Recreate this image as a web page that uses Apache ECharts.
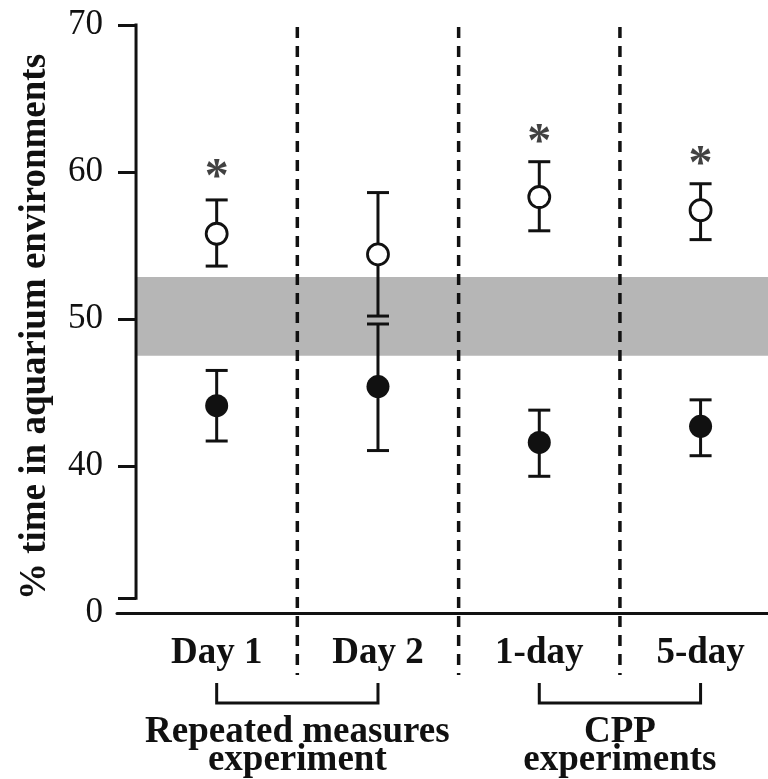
<!DOCTYPE html>
<html>
<head>
<meta charset="utf-8">
<script src="https://cdn.jsdelivr.net/npm/echarts@6/dist/echarts.min.js"></script>
<style>html,body{margin:0;padding:0;background:#fff}#c{width:768px;height:779px}</style>
</head>
<body>
<div id="c"></div>
<script>
const categories = ['Day 1', 'Day 2', '1-day', '5-day'];
const xPositions = [1, 2, 3, 4];
const openMean = [55.8, 54.4, 58.3, 57.4];
const openLow = [53.6, 50.2, 56.0, 55.4];
const openHigh = [58.1, 58.6, 60.7, 59.2];
const filledMean = [44.1, 45.4, 41.6, 42.7];
const filledLow = [41.7, 41.05, 39.3, 40.7];
const filledHigh = [46.5, 49.66, 43.8, 44.5];
const starValues = [60.2, null, 62.6, 61.1];
const bandRange = [47.5, 52.85];
const yTickValues = [31, 40, 50, 60, 70];
const yLabelValues = [30, 40, 50, 60, 70];
const yLabelTexts = ['0', '40', '50', '60', '70'];
const separators = [1.5, 2.5, 3.5];
const groupLabels = ['Repeated measures\nexperiment', 'CPP\nexperiments'];
const groupSpans = [[1, 2], [3, 4]];
const yTitle = '% time in aquarium environments';

const X_MIN = 0.382, X_MAX = 4.418, Y_MIN = 30, Y_MAX = 70, Y_AXIS_AT = 0.5;
const SERIF = "'Liberation Serif', 'DejaVu Serif', serif";
const INK = '#111';

const chart = echarts.init(document.getElementById('c'), null, {renderer: 'canvas'});

function errBar(params, api) {
  const x = api.value(0);
  const lo = api.coord([x, api.value(1)]);
  const hi = api.coord([x, api.value(2)]);
  const hw = 11;
  const st = {stroke: INK, lineWidth: 3};
  return {type: 'group', children: [
    {type: 'line', shape: {x1: lo[0], y1: lo[1], x2: hi[0], y2: hi[1]}, style: st},
    {type: 'line', shape: {x1: lo[0] - hw, y1: lo[1], x2: lo[0] + hw, y2: lo[1]}, style: st},
    {type: 'line', shape: {x1: hi[0] - hw, y1: hi[1], x2: hi[0] + hw, y2: hi[1]}, style: st}
  ]};
}

const option = {
  animation: false,
  backgroundColor: '#fff',
  grid: {left: 117, right: 0, top: 25, bottom: 166, containLabel: false},
  xAxis: {
    type: 'value', min: X_MIN, max: X_MAX,
    splitLine: {show: false},
    axisLine: {show: true, lineStyle: {color: INK, width: 3}},
    axisTick: {show: false},
    axisLabel: {
      customValues: xPositions,
      formatter: v => categories[xPositions.indexOf(v)] || '',
      fontFamily: SERIF, fontWeight: 'bold', fontSize: 37, lineHeight: 37,
      color: INK, margin: 22
    }
  },
  yAxis: {
    type: 'value', min: Y_MIN, max: Y_MAX, offset: -19,
    splitLine: {show: false},
    axisLine: {show: false},
    axisTick: {show: true, customValues: yTickValues, length: 18, lineStyle: {color: INK, width: 3}},
    axisLabel: {
      customValues: yLabelValues,
      formatter: v => yLabelTexts[yLabelValues.indexOf(v)],
      fontFamily: SERIF, fontSize: 35, color: INK, margin: 33
    },
    name: yTitle, nameLocation: 'middle', nameRotate: 90, nameGap: 82,
    nameTextStyle: {fontFamily: SERIF, fontWeight: 'bold', fontSize: 37, color: INK, padding: [0, 16, 0, 0]}
  },
  series: [
    {
      type: 'custom', name: 'yaxisline', clip: false, silent: true, z: 3,
      data: [[Y_AXIS_AT, yTickValues[0], Y_MAX]],
      renderItem: (p, api) => {
        const a = api.coord([api.value(0), api.value(1)]);
        const b = api.coord([api.value(0), api.value(2)]);
        return {type: 'line', shape: {x1: a[0], y1: a[1] + 1.5, x2: b[0], y2: b[1] - 1.5}, style: {stroke: INK, lineWidth: 3}};
      },
      markArea: {
        silent: true, itemStyle: {color: '#b6b6b6'},
        data: [[{coord: [Y_AXIS_AT, bandRange[1]]}, {coord: [X_MAX, bandRange[0]]}]]
      }
    },
    {
      type: 'custom', name: 'separators', clip: false, silent: true, z: 3,
      data: separators.map(s => [s]),
      renderItem: (p, api) => {
        const top = api.coord([api.value(0), Y_MAX]);
        const base = api.coord([api.value(0), Y_MIN]);
        return {type: 'line', shape: {x1: top[0], y1: top[1] + 2, x2: top[0], y2: base[1] + 62},
          style: {stroke: INK, lineWidth: 3.5, lineDash: [11, 8]}};
      }
    },
    {
      type: 'custom', name: 'groups', clip: false, silent: true, z: 3,
      data: groupSpans.map((g, i) => [g[0], g[1], i]),
      renderItem: (p, api) => {
        const a = api.coord([api.value(0), Y_MIN]);
        const b = api.coord([api.value(1), Y_MIN]);
        const y1 = a[1] + 70, y2 = a[1] + 90;
        const cx = (a[0] + b[0]) / 2;
        return {type: 'group', children: [
          {type: 'polyline', shape: {points: [[a[0], y1], [a[0], y2], [b[0], y2], [b[0], y1]]},
            style: {stroke: INK, lineWidth: 3, fill: null}},
          {type: 'text', x: cx, y: y2 + 43,
            style: {text: groupLabels[api.value(2)], fontFamily: SERIF, fontWeight: 'bold', fontSize: 37,
              lineHeight: 28, fill: INK, align: 'center', verticalAlign: 'middle'}}
        ]};
      }
    },
    {
      type: 'custom', name: 'openErr', silent: true, z: 4,
      data: xPositions.map((x, i) => [x, openLow[i], openHigh[i]]),
      renderItem: errBar
    },
    {
      type: 'custom', name: 'filledErr', silent: true, z: 4,
      data: xPositions.map((x, i) => [x, filledLow[i], filledHigh[i]]),
      renderItem: errBar
    },
    {
      type: 'scatter', name: 'open', z: 5, symbol: 'circle', symbolSize: 21,
      itemStyle: {color: '#fff', borderColor: INK, borderWidth: 2.8, opacity: 1},
      data: xPositions.map((x, i) => [x, openMean[i]])
    },
    {
      type: 'scatter', name: 'filled', z: 5, symbol: 'circle', symbolSize: 23,
      itemStyle: {color: INK, opacity: 1},
      data: xPositions.map((x, i) => [x, filledMean[i]])
    },
    {
      type: 'scatter', name: 'stars', z: 5, symbolSize: 0.1,
      data: xPositions.map((x, i) => [x, starValues[i]]).filter(d => d[1] !== null),
      label: {show: true, position: 'inside', formatter: '*', fontFamily: SERIF, fontWeight: 'bold', fontSize: 48,
        lineHeight: 48, color: INK, offset: [0, 10]}
    }
  ]
};
chart.setOption(option);
</script>
</body>
</html>
